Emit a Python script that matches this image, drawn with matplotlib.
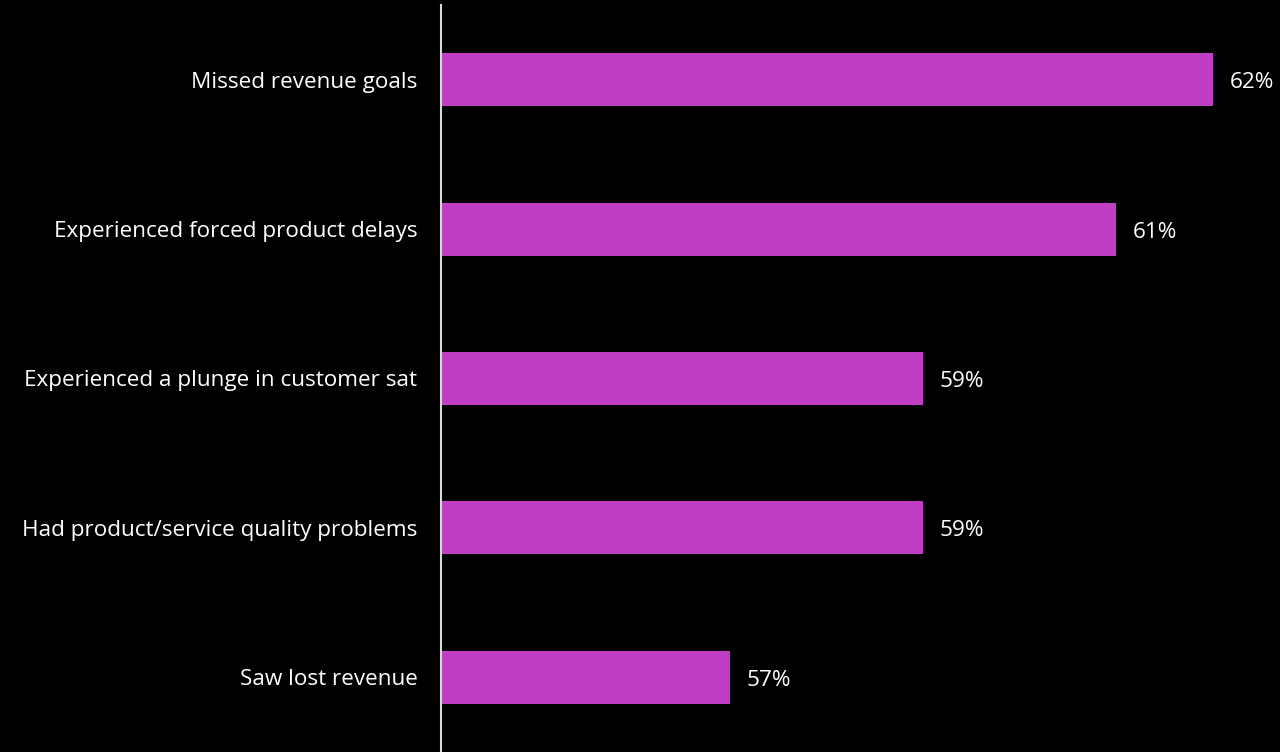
import matplotlib
matplotlib.use("Agg")
import matplotlib.pyplot as plt

# Survey results
categories = [
    "Missed revenue goals",
    "Experienced forced product delays",
    "Experienced a plunge in customer sat",
    "Had product/service quality problems",
    "Saw lost revenue",
]
values = [62, 61, 59, 59, 57]
value_labels = ["62%", "61%", "59%", "59%", "57%"]

BAR_COLOR = "#C03EC4"
AXIS_COLOR = "#D9D9D9"
X_MIN = 54

plt.rcParams["font.family"] = ["Open Sans", "DejaVu Sans"]

fig = plt.figure(figsize=(12.8, 7.52), dpi=100, facecolor="black")
ax = fig.add_axes([441 / 1280, 0, 839 / 1280, 747 / 752])
ax.set_facecolor("black")

pos = list(range(len(categories)))
ax.barh(pos, [v - X_MIN for v in values], left=X_MIN, height=0.355,
        color=BAR_COLOR)

for p, v, lab in zip(pos, values, value_labels):
    ax.text(v + 0.17, p + 0.02, lab, color="white", fontsize=16.2,
            va="center", ha="left")

ax.set_xlim(X_MIN, X_MIN + 839 / 96.5)
ax.set_ylim(4.5, -0.5)
ax.set_yticks(pos)
ax.set_yticklabels(categories, color="white", fontsize=16.2)
ax.tick_params(axis="y", length=0, pad=17)
ax.set_xticks([])

for s in ["top", "right", "bottom"]:
    ax.spines[s].set_visible(False)
ax.spines["left"].set_color(AXIS_COLOR)
ax.spines["left"].set_linewidth(1.5)

fig.savefig("out.png", dpi=100, facecolor="black")
